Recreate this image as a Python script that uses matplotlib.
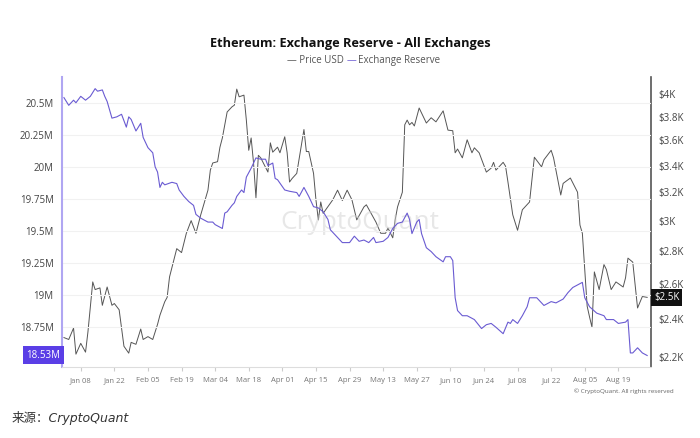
import matplotlib
matplotlib.use("Agg")
import matplotlib.pyplot as plt
import matplotlib.transforms as mtrans
from matplotlib.ticker import FixedLocator, NullLocator
import numpy as np
import pandas as pd

plt.rcParams['font.family'] = ['Open Sans', 'DejaVu Sans']

# ETH price (USD), day offset from 2024-01-01
price_day = [0, 2, 4, 5, 7, 9, 10, 12, 13, 15, 16, 18, 20, 21, 23, 25, 27, 28, 30, 32,
             33, 35, 37, 39, 40, 42, 43, 44, 46, 47, 49, 51, 53, 55, 57, 60, 61, 62, 64, 65,
             66, 68, 70, 71, 72, 73, 75, 76, 77, 78, 79, 80, 81, 82, 85, 86, 87, 89, 90, 92,
             93, 94, 95, 97, 100, 101, 102, 104, 105, 106, 107, 108, 112, 114, 116, 118, 120, 122, 125, 126,
             128, 130, 132, 134, 135, 137, 138, 139, 141, 142, 143, 144, 145, 146, 148, 151, 153, 155, 158, 160,
             162, 163, 164, 166, 168, 170, 171, 173, 176, 178, 179, 180, 183, 184, 185, 187, 189, 190, 191, 194,
             196, 199, 200, 203, 204, 207, 208, 211, 214, 215, 216, 218, 219, 220, 221, 223, 225, 226, 228, 230,
             233, 234, 235, 237, 239, 241, 243]
price_usd = [2300, 2290, 2350, 2215, 2270, 2225, 2330, 2610, 2565, 2575, 2475, 2580, 2475, 2485, 2450, 2255, 2220, 2275, 2265, 2345,
             2290, 2305, 2290, 2370, 2420, 2495, 2520, 2640, 2755, 2815, 2790, 2915, 3000, 2915, 3040, 3215, 3365, 3420, 3430, 3545,
             3620, 3840, 3885, 3900, 4045, 3975, 3990, 3770, 3520, 3620, 3420, 3160, 3480, 3460, 3350, 3580, 3505, 3545, 3500, 3630,
             3500, 3275, 3300, 3340, 3690, 3510, 3510, 3340, 3145, 3005, 3130, 3050, 3145, 3215, 3140, 3215, 3145, 3005, 3095, 3110,
             3050, 2990, 2915, 2915, 2950, 2885, 3005, 3095, 3200, 3730, 3770, 3730, 3750, 3720, 3875, 3745, 3790, 3755, 3850, 3685,
             3680, 3500, 3530, 3460, 3605, 3500, 3540, 3500, 3350, 3380, 3425, 3365, 3425, 3395, 3275, 3040, 2935, 3005, 3075, 3130,
             3465, 3390, 3445, 3520, 3460, 3180, 3265, 3305, 3200, 2970, 2915, 2470, 2410, 2355, 2670, 2565, 2715, 2685, 2565, 2610,
             2580, 2635, 2755, 2730, 2460, 2525, 2520]

# exchange reserve (millions of ETH)
reserve_day = [0, 2, 4, 5, 7, 9, 11, 12, 13, 14, 16, 17, 18, 20, 22, 24, 26, 27, 28, 30,
               32, 33, 35, 37, 38, 39, 40, 41, 42, 45, 47, 48, 50, 52, 54, 55, 57, 60, 62, 63,
               66, 67, 68, 70, 71, 72, 74, 75, 76, 78, 80, 82, 84, 85, 87, 88, 89, 92, 94, 97,
               98, 100, 102, 104, 106, 108, 110, 111, 114, 116, 119, 121, 123, 125, 127, 129, 130, 133, 135, 137,
               139, 141, 143, 144, 145, 147, 148, 149, 151, 153, 155, 158, 159, 161, 162, 163, 164, 166, 168, 171,
               174, 176, 178, 180, 183, 185, 186, 187, 189, 191, 193, 194, 197, 200, 202, 203, 205, 207, 208, 210,
               212, 214, 216, 217, 219, 222, 225, 226, 229, 231, 234, 235, 236, 237, 239, 241, 243]
reserve_m = [20.54, 20.48, 20.52, 20.50, 20.55, 20.52, 20.55, 20.58, 20.61, 20.59, 20.60, 20.55, 20.51, 20.38, 20.39, 20.41, 20.31, 20.39, 20.37, 20.28,
             20.34, 20.23, 20.15, 20.11, 20.00, 19.96, 19.84, 19.88, 19.86, 19.88, 19.87, 19.82, 19.77, 19.73, 19.70, 19.63, 19.60, 19.57, 19.57, 19.55,
             19.52, 19.64, 19.65, 19.70, 19.72, 19.77, 19.82, 19.80, 19.92, 19.99, 20.07, 20.06, 20.06, 20.01, 20.03, 19.91, 19.90, 19.82, 19.81, 19.80,
             19.77, 19.84, 19.77, 19.69, 19.68, 19.65, 19.59, 19.51, 19.45, 19.41, 19.41, 19.46, 19.42, 19.43, 19.41, 19.45, 19.41, 19.42, 19.45, 19.52,
             19.56, 19.57, 19.64, 19.59, 19.48, 19.57, 19.59, 19.48, 19.37, 19.34, 19.30, 19.26, 19.30, 19.30, 19.27, 18.98, 18.88, 18.84, 18.84, 18.81,
             18.74, 18.77, 18.78, 18.75, 18.70, 18.79, 18.78, 18.81, 18.78, 18.84, 18.91, 18.98, 18.98, 18.92, 18.94, 18.95, 18.94, 18.96, 18.97, 19.02,
             19.06, 19.08, 19.10, 18.98, 18.91, 18.86, 18.84, 18.81, 18.81, 18.78, 18.79, 18.81, 18.55, 18.55, 18.59, 18.55, 18.53]

reserve_ticks = [18.75, 19.0, 19.25, 19.5, 19.75, 20.0, 20.25, 20.5]
reserve_labels = ['18.75M', '19M', '19.25M', '19.5M', '19.75M', '20M', '20.25M', '20.5M']
price_ticks = [2200, 2400, 2600, 2800, 3000, 3200, 3400, 3600, 3800, 4000]
price_labels = ['$2.2K', '$2.4K', '$2.6K', '$2.8K', '$3K', '$3.2K', '$3.4K', '$3.6K', '$3.8K', '$4K']
date_ticks = ['2024-01-08', '2024-01-22', '2024-02-05', '2024-02-19', '2024-03-04', '2024-03-18',
              '2024-04-01', '2024-04-15', '2024-04-29', '2024-05-13', '2024-05-27', '2024-06-10',
              '2024-06-24', '2024-07-08', '2024-07-22', '2024-08-05', '2024-08-19']
date_labels = ['Jan 08', 'Jan 22', 'Feb 05', 'Feb 19', 'Mar 04', 'Mar 18', 'Apr 01', 'Apr 15', 'Apr 29',
               'May 13', 'May 27', 'Jun 10', 'Jun 24', 'Jul 08', 'Jul 22', 'Aug 05', 'Aug 19']

base = pd.Timestamp('2024-01-01')
pdates = base + pd.to_timedelta(price_day, unit='D')
rdates = base + pd.to_timedelta(reserve_day, unit='D')

PURPLE = '#6a5bd2'
GRAY = '#555555'

fig = plt.figure(figsize=(7, 4.38), dpi=100)
ax = fig.add_axes([0.0886, 0.162, 0.8414, 0.662])
ax2 = ax.twinx()

ax.plot(rdates, reserve_m, color=PURPLE, lw=0.8, zorder=3)
ax2.plot(pdates, price_usd, color=GRAY, lw=0.7)
ax.set_zorder(ax2.get_zorder() + 1)
ax.patch.set_visible(False)

ax.set_xlim(base - pd.Timedelta(days=0.8), base + pd.Timedelta(days=244.6))
ax.set_ylim(18.44, 20.70)
ax2.set_yscale('log')
ax2.set_ylim(2151, 4157)

ax.set_yticks(reserve_ticks)
ax.set_yticklabels(reserve_labels)
ax2.yaxis.set_major_locator(FixedLocator(price_ticks))
ax2.yaxis.set_minor_locator(NullLocator())
ax2.set_yticklabels(price_labels)
ax.set_xticks(pd.to_datetime(date_ticks))
ax.set_xticklabels(date_labels)

ax.grid(axis='y', color='#f1f1f1', lw=0.8)
ax.tick_params(axis='y', length=0, pad=6, labelsize=7, labelcolor='#444444')
ax2.tick_params(axis='y', length=0, pad=5, labelsize=7, labelcolor='#444444')
ax.tick_params(axis='x', length=3, color='#cccccc', pad=4, labelsize=5.5, labelcolor='#777777')

for s in ['top', 'right']:
    ax.spines[s].set_visible(False)
for s in ['top', 'left', 'bottom']:
    ax2.spines[s].set_visible(False)
ax.spines['left'].set_color('#b0a6f2')
ax.spines['left'].set_linewidth(1.5)
ax.spines['bottom'].set_color('#dddddd')
ax2.spines['right'].set_color('#555555')
ax2.spines['right'].set_linewidth(1.2)

# last value tags
tl = mtrans.blended_transform_factory(ax.transAxes, ax.transData)
ax.text(-0.003, reserve_m[-1], '%.2fM' % reserve_m[-1], transform=tl, ha='right', va='center',
        fontsize=7, color='white', bbox=dict(facecolor='#5a3ee6', edgecolor='none', pad=2.5))
tr = mtrans.blended_transform_factory(ax2.transAxes, ax2.transData)
ax2.text(1.005, price_usd[-1], '$%.1fK' % (price_usd[-1] / 1000), transform=tr, ha='left', va='center',
         fontsize=7, color='white', bbox=dict(facecolor='#111111', edgecolor='none', pad=2))

fig.text(0.5, 0.9, 'Ethereum: Exchange Reserve - All Exchanges', ha='center', va='center',
         fontsize=9.2, fontweight='bold', color='#111111')
fig.text(0.41, 0.862, '— Price USD', ha='left', va='center', fontsize=7, color='#555555')
fig.text(0.495, 0.862, '—', ha='left', va='center', fontsize=7, color=PURPLE)
fig.text(0.511, 0.862, 'Exchange Reserve', ha='left', va='center', fontsize=7, color='#555555')

ax.text(0.505, 0.5, 'CryptoQuant', transform=ax.transAxes, ha='center', va='center',
        fontsize=19, color='#d0d0d0', alpha=0.5, zorder=0)
fig.text(0.963, 0.107, '© CryptoQuant. All rights reserved', ha='right', va='center',
         fontsize=4.5, color='#666666')
fig.text(0.017, 0.045, '来源：CryptoQuant', ha='left', va='center', fontsize=9, style='italic',
         color='#333333', family=['DejaVu Sans', 'Noto Sans CJK SC'])

fig.savefig('out.png', dpi=100)
